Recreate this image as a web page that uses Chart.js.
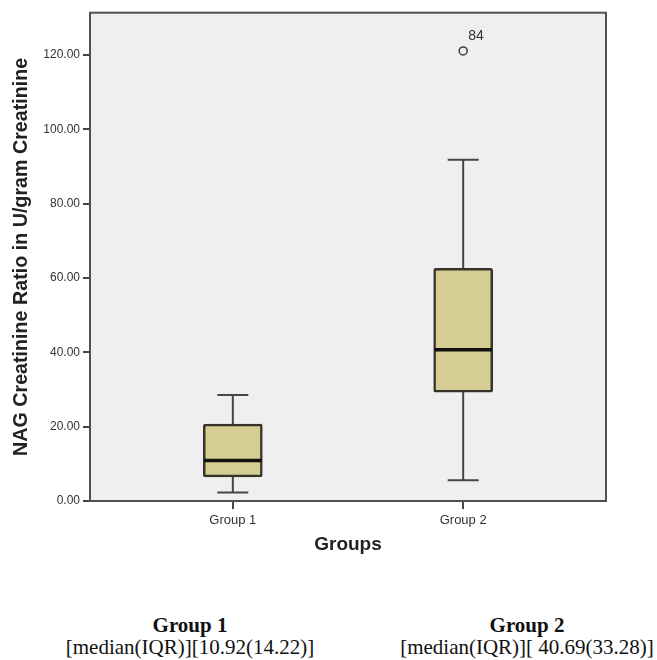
<!DOCTYPE html>
<html>
<head>
<meta charset="utf-8">
<script src="https://cdn.jsdelivr.net/npm/chart.js@4.4.1/dist/chart.umd.min.js"></script>
<style>
  body { margin: 0; background: #fff; }
  #wrap { position: relative; width: 657px; height: 660px; }
  #chart { position: absolute; left: 0; top: 0; }
  .cap {
    position: absolute; top: 614px; width: 300px; text-align: center;
    font-family: "Liberation Serif", "Times New Roman", serif; font-size: 21px;
    line-height: 22px; color: #111;
  }
  .cap b { display: block; }
</style>
</head>
<body>
<div id="wrap">
  <canvas id="chart" width="657" height="560"></canvas>
  <div class="cap" id="cap0" style="left:40px"></div>
  <div class="cap" id="cap1" style="left:377px"></div>
</div>
<script>
// Box plot summary per group
const groups = ["Group 1", "Group 2"];
const whiskerLow = [2.3, 5.6];
const q1 = [6.5, 29.3];
const median = [10.92, 40.69];
const q3 = [20.7, 62.6];
const whiskerHigh = [28.5, 91.8];

// Outliers: group index (1-based), value, case number
const outlierGroup = [2];
const outlierValue = [121.1];
const outlierCase = ["84"];

// Axis ticks
const yTickStep = 20;
const yMax = 131.4;

// Caption under the chart
const captionStats = ["[median(IQR)][10.92(14.22)]", "[median(IQR)][ 40.69(33.28)]"];

groups.forEach((g, i) => {
    const el = document.getElementById("cap" + i);
    el.innerHTML = "<b></b><span></span>";
    el.querySelector("b").textContent = g;
    el.querySelector("span").textContent = captionStats[i];
});

const AXIS_COLOR = "#454545";

// Plot background and outer frame
const framePlugin = {
    id: "frame",
    beforeDraw(chart) {
        const { ctx, chartArea: a } = chart;
        ctx.save();
        ctx.fillStyle = "#efefef";
        ctx.fillRect(a.left, a.top, a.right - a.left, a.bottom - a.top);
        ctx.restore();
    },
    afterDraw(chart) {
        const { ctx, chartArea: a } = chart;
        ctx.save();
        ctx.strokeStyle = "#505050";
        ctx.lineWidth = 2;
        ctx.strokeRect(a.left, a.top, a.right - a.left, a.bottom - a.top);
        ctx.restore();
    }
};

// Whiskers, caps, medians and outlier labels
const boxPlugin = {
    id: "boxParts",
    afterDatasetsDraw(chart) {
        const { ctx } = chart;
        const y = chart.scales.y;
        const x = chart.scales.x;
        const bars = chart.getDatasetMeta(0).data;
        const capHalf = 15.5;
        ctx.save();
        ctx.lineCap = "butt";
        bars.forEach((bar, i) => {
            const cx = bar.x;
            const yLo = y.getPixelForValue(whiskerLow[i]);
            const yQ1 = y.getPixelForValue(q1[i]);
            const yQ3 = y.getPixelForValue(q3[i]);
            const yHi = y.getPixelForValue(whiskerHigh[i]);
            ctx.strokeStyle = AXIS_COLOR;
            ctx.lineWidth = 2;
            ctx.beginPath();
            ctx.moveTo(cx, yQ3); ctx.lineTo(cx, yHi);
            ctx.moveTo(cx - capHalf, yHi); ctx.lineTo(cx + capHalf, yHi);
            ctx.moveTo(cx, yQ1); ctx.lineTo(cx, yLo);
            ctx.moveTo(cx - capHalf, yLo); ctx.lineTo(cx + capHalf, yLo);
            ctx.stroke();
            // median
            const yMed = y.getPixelForValue(median[i]);
            ctx.strokeStyle = "#111";
            ctx.lineWidth = 3.5;
            ctx.beginPath();
            ctx.moveTo(cx - bar.width / 2 + 1, yMed);
            ctx.lineTo(cx + bar.width / 2 - 1, yMed);
            ctx.stroke();
        });
        // outlier case labels
        ctx.fillStyle = "#333";
        ctx.font = "14px 'Liberation Sans', Arial, sans-serif";
        ctx.textAlign = "left";
        ctx.textBaseline = "bottom";
        outlierValue.forEach((v, i) => {
            const px = x.getPixelForValue(outlierGroup[i]);
            const py = y.getPixelForValue(v);
            ctx.fillText(outlierCase[i], px + 5, py - 8);
        });
        ctx.restore();
    }
};

new Chart(document.getElementById("chart"), {
    type: "bar",
    data: {
        datasets: [
            {
                type: "bar",
                data: groups.map((g, i) => ({ x: i + 1, y: [q1[i], q3[i]] })),
                backgroundColor: "#d5cd92",
                borderColor: "#35332a",
                borderWidth: 2.5,
                borderSkipped: false,
                borderRadius: 2,
                barThickness: 59,
                grouped: false
            },
            {
                type: "scatter",
                data: outlierValue.map((v, i) => ({ x: outlierGroup[i], y: v })),
                pointStyle: "circle",
                pointRadius: 4,
                backgroundColor: "rgba(0,0,0,0)",
                borderColor: "#444",
                borderWidth: 1.6
            }
        ]
    },
    options: {
        responsive: false,
        animation: false,
        layout: { padding: { top: 12.7, right: 51, left: 0, bottom: 0 } },
        plugins: {
            legend: { display: false },
            tooltip: { enabled: false }
        },
        scales: {
            x: {
                type: "linear",
                min: 0.38,
                max: 2.62,
                offset: false,
                grid: { display: true, drawOnChartArea: false, drawTicks: true, tickLength: 8, color: AXIS_COLOR, lineWidth: 2, offset: false },
                border: { display: true, color: AXIS_COLOR, width: 2 },
                afterBuildTicks: (s) => { s.ticks = groups.map((g, i) => ({ value: i + 1 })); },
                afterFit: (s) => { s.height = 59; },
                ticks: {
                    padding: 4,
                    color: "#333",
                    font: { family: "'Liberation Sans', Arial, sans-serif", size: 13 },
                    callback: (v) => groups[v - 1] || ""
                },
                title: {
                    display: true,
                    text: "Groups",
                    color: "#222",
                    font: { family: "'Liberation Sans', Arial, sans-serif", size: 19, weight: "bold" },
                    padding: { top: 0, bottom: 4 }
                }
            },
            y: {
                min: 0,
                max: yMax,
                grid: { display: true, drawOnChartArea: false, drawTicks: true, tickLength: 7, color: AXIS_COLOR, lineWidth: 2 },
                border: { display: true, color: AXIS_COLOR, width: 2 },
                afterFit: (s) => { s.width = 90; },
                ticks: {
                    stepSize: yTickStep,
                    includeBounds: false,
                    padding: 3,
                    color: "#333",
                    font: { family: "'Liberation Sans', Arial, sans-serif", size: 12 },
                    callback: (v) => Number(v).toFixed(2)
                },
                title: {
                    display: true,
                    text: "NAG Creatinine Ratio in U/gram Creatinine",
                    color: "#222",
                    font: { family: "'Liberation Sans', Arial, sans-serif", size: 19.7, weight: "bold" },
                    padding: { top: 10, bottom: 0 }
                }
            }
        }
    },
    plugins: [framePlugin, boxPlugin]
});
</script>
</body>
</html>
